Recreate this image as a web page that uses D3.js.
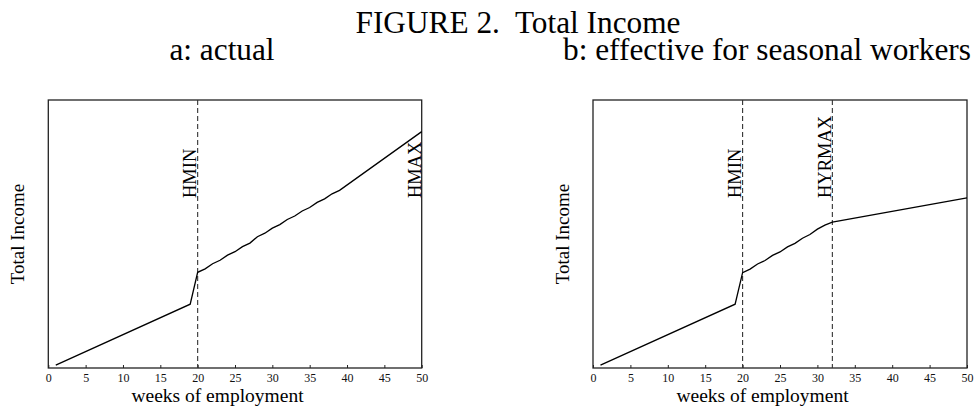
<!DOCTYPE html>
<html>
<head>
<meta charset="utf-8">
<script src="https://cdn.jsdelivr.net/npm/d3@7"></script>
<style>
  body { margin: 0; background: #fff; }
  svg { display: block; font-family: "Liberation Serif", "Times New Roman", serif; }
  text { white-space: pre; }
</style>
</head>
<body>
<script>
let W = 976;
let H = 406;

// panel a: actual
let weeksA = [1, 19, 20, 21, 22, 23, 24, 25, 26, 27, 28, 29, 30, 31, 32, 33, 34, 35, 36, 37, 38, 39, 50];
let incomeA = [1.1, 23.8, 35.7, 37.0, 38.9, 40.2, 42.1, 43.4, 45.3, 46.6, 49.0, 50.3, 52.2, 53.5, 55.4, 56.7, 58.6, 59.9, 61.8, 63.1, 65.0, 66.3, 88.2];
let markersA = [{ week: 20, name: "HMIN", dashed: true }, { week: 50, name: "HMAX", dashed: false }];

// panel b: effective for seasonal workers
let weeksB = [1, 19, 20, 21, 22, 23, 24, 25, 26, 27, 28, 29, 30, 31, 32, 50];
let incomeB = [1.1, 23.8, 35.6, 36.9, 38.8, 40.1, 42.0, 43.3, 45.2, 46.5, 48.4, 49.8, 51.8, 53.3, 54.4, 63.5];
let markersB = [{ week: 20, name: "HMIN", dashed: true }, { week: 32, name: "HYRMAX", dashed: true }];

let xTicks = [0, 5, 10, 15, 20, 25, 30, 35, 40, 45, 50];
let xLabel = "weeks of employment";
let yLabel = "Total Income";
let title = "FIGURE 2.  Total Income";
let subA = "a: actual";
let subB = "b: effective for seasonal workers";

let svg = d3.select("body")
  .append("svg")
  .attr("width", W)
  .attr("height", H)
  .attr("viewBox", "0 0 " + W + " " + H);

let plotTop = 100, plotBot = 368;
let labelAt = 63.4; // where the rotated marker names start, in y units

svg.append("text")
  .text(title)
  .attr("x", 518)
  .attr("y", 33)
  .attr("font-size", 31.3)
  .attr("text-anchor", "middle");

let drawPanel = (left, right, weeks, income, markers, sub) =>
{
  let xScale = d3.scaleLinear().domain([0, 50]).range([left, right]);
  let yScale = d3.scaleLinear().domain([0, 100]).range([plotBot, plotTop]);
  let mid = (left + right) / 2;

  svg.append("text")
    .text(sub)
    .attr("x", mid - 13)
    .attr("y", 60)
    .attr("font-size", 31.3)
    .attr("text-anchor", "middle");

  // bottom axis with little inward ticks
  let axis = svg.append("g")
    .attr("transform", "translate(0," + plotBot + ")")
    .call(d3.axisBottom(xScale).tickValues(xTicks).tickSize(-3).tickPadding(5).tickSizeOuter(0));
  axis.attr("font-family", "Liberation Serif");
  axis.select(".domain").remove();
  axis.selectAll("line").attr("stroke", "#222");
  axis.selectAll("text")
    .attr("font-size", 12)
    .attr("fill", "#111");

  // frame
  svg.append("rect")
    .attr("x", left)
    .attr("y", plotTop)
    .attr("width", right - left)
    .attr("height", plotBot - plotTop)
    .attr("fill", "none")
    .attr("stroke", "#222")
    .attr("stroke-width", 1.3);

  svg.append("text")
    .text(xLabel)
    .attr("x", mid - 17.5)
    .attr("y", 401.5)
    .attr("font-size", 19.5)
    .attr("text-anchor", "middle");

  svg.append("text")
    .text(yLabel)
    .attr("transform", "translate(" + (left - 24.3) + "," + ((plotTop + plotBot) / 2) + ") rotate(-90)")
    .attr("font-size", 19)
    .attr("text-anchor", "middle");

  svg.selectAll(null)
    .data(markers.filter(m => m.dashed))
    .enter()
    .append("line")
    .attr("x1", d => xScale(d.week))
    .attr("x2", d => xScale(d.week))
    .attr("y1", plotTop)
    .attr("y2", plotBot)
    .attr("stroke", "#333")
    .attr("stroke-width", 1.1)
    .attr("stroke-dasharray", "5,3");

  svg.selectAll(null)
    .data(markers)
    .enter()
    .append("text")
    .text(d => d.name)
    .attr("transform", d => "translate(" + (xScale(d.week) - 1.2) + "," + yScale(labelAt) + ") rotate(-90)")
    .attr("font-size", 18.5);

  let line = d3.line()
    .x(d => xScale(d[0]))
    .y(d => yScale(d[1]));

  svg.append("path")
    .datum(d3.zip(weeks, income))
    .attr("d", line)
    .attr("fill", "none")
    .attr("stroke", "#000")
    .attr("stroke-width", 1.3);
}

drawPanel(48.3, 421.7, weeksA, incomeA, markersA, subA);
drawPanel(593, 967, weeksB, incomeB, markersB, subB);
</script>
</body>
</html>
